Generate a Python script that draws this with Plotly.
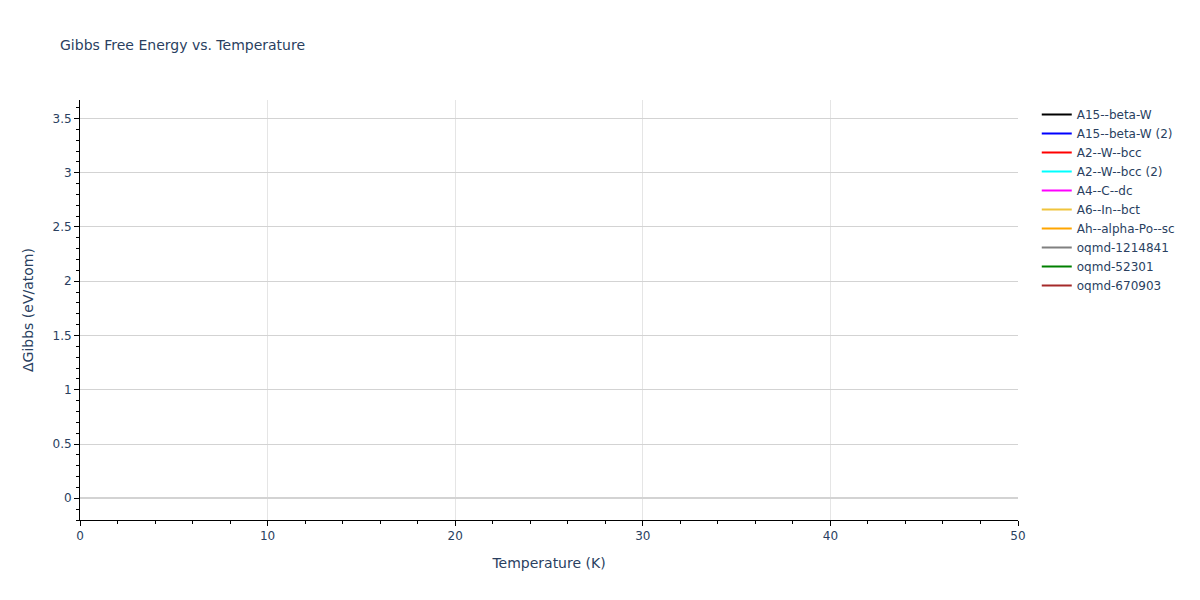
import plotly.graph_objects as go

# phase names and their line colours (legend order)
phases = ['A15--beta-W', 'A15--beta-W (2)', 'A2--W--bcc', 'A2--W--bcc (2)', 'A4--C--dc',
          'A6--In--bct', 'Ah--alpha-Po--sc', 'oqmd-1214841', 'oqmd-52301', 'oqmd-670903']
colors = ['black', 'blue', 'red', 'cyan', 'magenta',
          '#f0c43c', 'orange', 'gray', 'green', 'brown']

# no temperature / gibbs points visible in the picture: series hold only missing values
temps = {p: [None] for p in phases}
gibbs = {p: [None] for p in phases}

fig = go.Figure()
for p, c in zip(phases, colors):
    fig.add_trace(go.Scatter(x=temps[p], y=gibbs[p], mode='lines', name=p,
                             line=dict(color=c, width=2)))

fig.update_layout(
    title=dict(text='Gibbs Free Energy vs. Temperature', x=0.05, font=dict(size=14)),
    template='plotly_white',
    width=1200, height=600,
    margin=dict(l=80, r=182, t=100, b=80),
    font=dict(family='Verdana, DejaVu Sans, sans-serif'),
    legend=dict(font=dict(size=12)),
    showlegend=True,
)
fig.update_xaxes(title_text='Temperature (K)', range=[0, 50], dtick=10,
                 showline=True, linecolor='black', ticks='outside', tickcolor='black',
                 gridcolor='#e5e5e5', zeroline=False,
                 minor=dict(dtick=2, ticks='outside', tickcolor='black', showgrid=False))
fig.update_yaxes(title_text='ΔGibbs (eV/atom)', range=[-0.2, 3.67], dtick=0.5,
                 showline=True, linecolor='black', ticks='outside', tickcolor='black',
                 gridcolor='lightgray', zeroline=True, zerolinecolor='lightgray', zerolinewidth=2,
                 minor=dict(dtick=0.1, ticks='outside', tickcolor='black', showgrid=False))

# page body margin off so the 1200x600 figure fills the window
fig.write_html('out.html', config={'displayModeBar': False},
               post_script="document.body.style.margin='0';")
